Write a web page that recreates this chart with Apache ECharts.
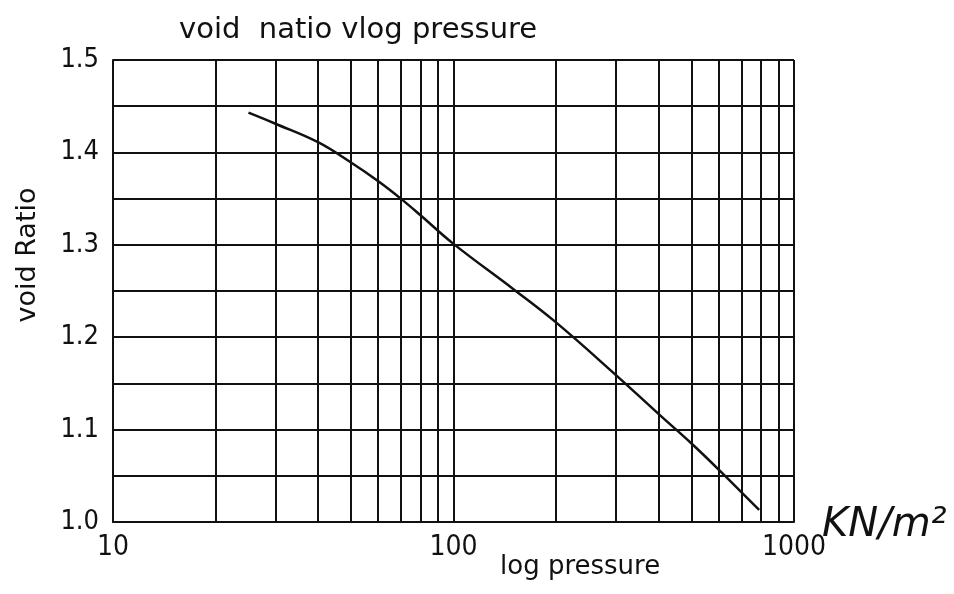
<!DOCTYPE html>
<html>
<head>
<meta charset="utf-8">
<script src="https://cdn.jsdelivr.net/npm/echarts@6/dist/echarts.min.js"></script>
<style>
  html, body { margin: 0; padding: 0; background: #fff; }
  #chart { width: 954px; height: 594px; }
</style>
</head>
<body>
<div id="chart"></div>
<script>
// pressure (kN/m2)
const pressure = [25, 30, 40, 50, 60, 70, 80, 100, 150, 200, 300, 400, 500, 600, 790];
// void ratio at each pressure
const voidRatio = [1.443, 1.431, 1.411, 1.389, 1.369, 1.350, 1.332, 1.301, 1.252, 1.216, 1.159, 1.117, 1.085, 1.057, 1.013];
// minor vertical grid lines of the log paper
const minorLines = [20, 30, 40, 50, 60, 70, 80, 90, 200, 300, 400, 500, 600, 700, 800, 900];
const yLabels = ["1.0", "1.1", "1.2", "1.3", "1.4", "1.5"];

const narrow = "DejaVu Sans Condensed";
const wide = "DejaVu Sans";
const ink = "#111";

const chart = echarts.init(document.getElementById("chart"));
chart.setOption({
  backgroundColor: "#fff",
  animation: false,
  title: {
    text: "void  natio vlog pressure",
    left: 174,
    top: 11,
    textStyle: { fontFamily: wide, fontSize: 29, fontWeight: "normal", color: ink },
  },
  grid: { left: 113, right: 160, top: 60, bottom: 72 },
  xAxis: {
    type: "log",
    logBase: 10,
    min: 10,
    max: 1000,
    axisLine: { lineStyle: { color: ink, width: 2 } },
    axisTick: { show: false },
    splitLine: { show: true, lineStyle: { color: ink, width: 2 } },
    axisLabel: {
      fontFamily: narrow,
      fontSize: 28,
      color: ink,
      margin: 12,
      formatter: (v) => String(Math.round(v)),
    },
  },
  yAxis: {
    type: "value",
    min: 1.0,
    max: 1.5,
    interval: 0.05,
    axisLine: { lineStyle: { color: ink, width: 2 } },
    axisTick: { show: false },
    splitLine: { show: true, lineStyle: { color: ink, width: 2 } },
    axisLabel: {
      fontFamily: narrow,
      fontSize: 27,
      color: ink,
      margin: 14,
      formatter: (v) => {
        const s = v.toFixed(1);
        return Math.round(v * 100) % 10 === 0 && yLabels.includes(s) ? s : "";
      },
    },
  },
  series: [
    {
      type: "line",
      data: pressure.map((p, i) => [p, voidRatio[i]]),
      smooth: 0.4,
      showSymbol: false,
      lineStyle: { color: ink, width: 2.5 },
      markLine: {
        silent: true,
        symbol: "none",
        label: { show: false },
        lineStyle: { color: ink, width: 2, type: "solid" },
        data: minorLines.map((v) => ({ xAxis: v })),
      },
    },
  ],
  graphic: [
    {
      type: "text",
      x: 28,
      y: 255,
      rotation: Math.PI / 2,
      style: {
        text: "void Ratio",
        fontFamily: wide,
        fontSize: 27,
        fill: ink,
        align: "center",
        verticalAlign: "middle",
      },
    },
    {
      type: "text",
      left: 500,
      top: 554,
      style: { text: "log pressure", fontFamily: wide, fontSize: 26, fill: ink },
    },
    {
      type: "text",
      left: 822,
      top: 506,
      style: { text: "KN/m²", fontFamily: wide, fontStyle: "italic", fontSize: 40, fill: ink },
    },
  ],
});
</script>
</body>
</html>
